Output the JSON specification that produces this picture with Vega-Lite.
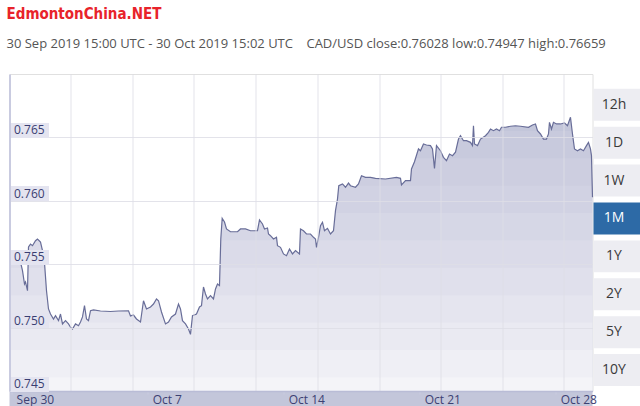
{
  "$schema": "https://vega.github.io/schema/vega-lite/v6.json",
  "padding": {"left": 1.5, "top": 6, "right": 0, "bottom": 0},
  "background": "#ffffff",
  "bounds": "flush",
  "title": {
    "text": "EdmontonChina.NET",
    "subtitle": "30 Sep 2019 15:00 UTC - 30 Oct 2019 15:02 UTC \u00a0\u00a0\u00a0CAD/USD close:0.76028 low:0.74947 high:0.76659",
    "anchor": "start",
    "frame": "group",
    "dx": -3,
    "font": "'DejaVu Sans Condensed', 'Liberation Sans', sans-serif",
    "fontSize": 15,
    "fontWeight": "bold",
    "color": "#e8232b",
    "subtitleFont": "Open Sans",
    "subtitleFontSize": 13,
    "subtitleColor": "#555555",
    "subtitlePadding": 16,
    "offset": 23
  },
  "datasets": {
    "rate": [
      {"t": "2019-09-30T15:00Z", "v": 0.75549},
      {"t": "2019-09-30T22:25Z", "v": 0.75533},
      {"t": "2019-10-01T04:35Z", "v": 0.75517},
      {"t": "2019-10-01T07:03Z", "v": 0.75449},
      {"t": "2019-10-01T09:32Z", "v": 0.75344},
      {"t": "2019-10-01T10:46Z", "v": 0.75360},
      {"t": "2019-10-01T13:14Z", "v": 0.75291},
      {"t": "2019-10-01T14:28Z", "v": 0.75636},
      {"t": "2019-10-01T16:56Z", "v": 0.75659},
      {"t": "2019-10-01T19:24Z", "v": 0.75646},
      {"t": "2019-10-01T23:07Z", "v": 0.75685},
      {"t": "2019-10-02T01:35Z", "v": 0.75699},
      {"t": "2019-10-02T05:17Z", "v": 0.75675},
      {"t": "2019-10-02T07:45Z", "v": 0.75607},
      {"t": "2019-10-02T10:14Z", "v": 0.75510},
      {"t": "2019-10-02T12:42Z", "v": 0.75291},
      {"t": "2019-10-02T15:10Z", "v": 0.75147},
      {"t": "2019-10-02T17:38Z", "v": 0.75107},
      {"t": "2019-10-02T21:20Z", "v": 0.75068},
      {"t": "2019-10-02T23:49Z", "v": 0.75094},
      {"t": "2019-10-03T03:31Z", "v": 0.75055},
      {"t": "2019-10-03T05:59Z", "v": 0.75107},
      {"t": "2019-10-03T08:27Z", "v": 0.75029},
      {"t": "2019-10-03T12:10Z", "v": 0.75055},
      {"t": "2019-10-03T15:52Z", "v": 0.75029},
      {"t": "2019-10-03T18:20Z", "v": 0.75003},
      {"t": "2019-10-03T20:48Z", "v": 0.74989},
      {"t": "2019-10-04T00:31Z", "v": 0.75029},
      {"t": "2019-10-04T04:13Z", "v": 0.75015},
      {"t": "2019-10-04T06:41Z", "v": 0.75044},
      {"t": "2019-10-04T09:09Z", "v": 0.75084},
      {"t": "2019-10-04T11:38Z", "v": 0.75173},
      {"t": "2019-10-04T14:06Z", "v": 0.75068},
      {"t": "2019-10-04T16:34Z", "v": 0.75055},
      {"t": "2019-10-04T19:02Z", "v": 0.75133},
      {"t": "2019-10-04T22:44Z", "v": 0.75139},
      {"t": "2019-10-05T07:23Z", "v": 0.75131},
      {"t": "2019-10-05T19:44Z", "v": 0.75127},
      {"t": "2019-10-06T05:37Z", "v": 0.75131},
      {"t": "2019-10-06T17:58Z", "v": 0.75133},
      {"t": "2019-10-06T20:26Z", "v": 0.75092},
      {"t": "2019-10-07T00:08Z", "v": 0.75099},
      {"t": "2019-10-07T03:51Z", "v": 0.75068},
      {"t": "2019-10-07T08:47Z", "v": 0.75044},
      {"t": "2019-10-07T12:29Z", "v": 0.75212},
      {"t": "2019-10-07T16:12Z", "v": 0.75147},
      {"t": "2019-10-07T21:08Z", "v": 0.75163},
      {"t": "2019-10-08T00:50Z", "v": 0.75186},
      {"t": "2019-10-08T04:33Z", "v": 0.75226},
      {"t": "2019-10-08T07:01Z", "v": 0.75212},
      {"t": "2019-10-08T10:43Z", "v": 0.75123},
      {"t": "2019-10-08T15:40Z", "v": 0.75029},
      {"t": "2019-10-08T19:22Z", "v": 0.75044},
      {"t": "2019-10-08T23:04Z", "v": 0.75084},
      {"t": "2019-10-09T04:01Z", "v": 0.75107},
      {"t": "2019-10-09T07:43Z", "v": 0.75186},
      {"t": "2019-10-09T10:11Z", "v": 0.75147},
      {"t": "2019-10-09T12:39Z", "v": 0.75055},
      {"t": "2019-10-09T16:22Z", "v": 0.75029},
      {"t": "2019-10-09T20:04Z", "v": 0.74989},
      {"t": "2019-10-09T22:32Z", "v": 0.74947},
      {"t": "2019-10-10T01:00Z", "v": 0.75094},
      {"t": "2019-10-10T05:57Z", "v": 0.75107},
      {"t": "2019-10-10T09:39Z", "v": 0.75163},
      {"t": "2019-10-10T12:07Z", "v": 0.75173},
      {"t": "2019-10-10T14:35Z", "v": 0.75320},
      {"t": "2019-10-10T17:04Z", "v": 0.75265},
      {"t": "2019-10-10T19:32Z", "v": 0.75226},
      {"t": "2019-10-10T23:14Z", "v": 0.75252},
      {"t": "2019-10-11T02:56Z", "v": 0.75226},
      {"t": "2019-10-11T05:25Z", "v": 0.75305},
      {"t": "2019-10-11T07:53Z", "v": 0.75344},
      {"t": "2019-10-11T10:21Z", "v": 0.75331},
      {"t": "2019-10-11T11:57Z", "v": 0.75699},
      {"t": "2019-10-11T13:41Z", "v": 0.75862},
      {"t": "2019-10-11T16:32Z", "v": 0.75833},
      {"t": "2019-10-11T19:00Z", "v": 0.75778},
      {"t": "2019-10-11T23:56Z", "v": 0.75756},
      {"t": "2019-10-12T08:35Z", "v": 0.75756},
      {"t": "2019-10-12T12:17Z", "v": 0.75778},
      {"t": "2019-10-12T18:28Z", "v": 0.75778},
      {"t": "2019-10-13T00:38Z", "v": 0.75764},
      {"t": "2019-10-13T09:17Z", "v": 0.75764},
      {"t": "2019-10-13T11:45Z", "v": 0.75849},
      {"t": "2019-10-13T15:27Z", "v": 0.75817},
      {"t": "2019-10-13T17:56Z", "v": 0.75778},
      {"t": "2019-10-13T21:38Z", "v": 0.75786},
      {"t": "2019-10-13T22:52Z", "v": 0.75738},
      {"t": "2019-10-14T01:20Z", "v": 0.75725},
      {"t": "2019-10-14T05:02Z", "v": 0.75699},
      {"t": "2019-10-14T08:45Z", "v": 0.75712},
      {"t": "2019-10-14T09:59Z", "v": 0.75646},
      {"t": "2019-10-14T13:41Z", "v": 0.75633},
      {"t": "2019-10-14T17:23Z", "v": 0.75581},
      {"t": "2019-10-14T21:06Z", "v": 0.75567},
      {"t": "2019-10-15T00:48Z", "v": 0.75620},
      {"t": "2019-10-15T04:30Z", "v": 0.75581},
      {"t": "2019-10-15T08:13Z", "v": 0.75607},
      {"t": "2019-10-15T13:09Z", "v": 0.75581},
      {"t": "2019-10-15T14:23Z", "v": 0.75778},
      {"t": "2019-10-15T18:05Z", "v": 0.75764},
      {"t": "2019-10-15T21:48Z", "v": 0.75738},
      {"t": "2019-10-16T02:44Z", "v": 0.75738},
      {"t": "2019-10-16T06:26Z", "v": 0.75712},
      {"t": "2019-10-16T08:55Z", "v": 0.75699},
      {"t": "2019-10-16T10:09Z", "v": 0.75633},
      {"t": "2019-10-16T12:37Z", "v": 0.75712},
      {"t": "2019-10-16T15:05Z", "v": 0.75804},
      {"t": "2019-10-16T17:33Z", "v": 0.75831},
      {"t": "2019-10-16T20:02Z", "v": 0.75764},
      {"t": "2019-10-16T23:44Z", "v": 0.75783},
      {"t": "2019-10-17T03:26Z", "v": 0.75738},
      {"t": "2019-10-17T07:08Z", "v": 0.75764},
      {"t": "2019-10-17T09:37Z", "v": 0.75922},
      {"t": "2019-10-17T12:05Z", "v": 0.76014},
      {"t": "2019-10-17T13:41Z", "v": 0.76119},
      {"t": "2019-10-17T18:16Z", "v": 0.76133},
      {"t": "2019-10-17T21:58Z", "v": 0.76107},
      {"t": "2019-10-18T01:40Z", "v": 0.76140},
      {"t": "2019-10-18T04:08Z", "v": 0.76119},
      {"t": "2019-10-18T10:19Z", "v": 0.76107},
      {"t": "2019-10-18T14:01Z", "v": 0.76133},
      {"t": "2019-10-18T17:43Z", "v": 0.76198},
      {"t": "2019-10-18T22:40Z", "v": 0.76185},
      {"t": "2019-10-19T04:50Z", "v": 0.76185},
      {"t": "2019-10-19T11:01Z", "v": 0.76177},
      {"t": "2019-10-19T23:22Z", "v": 0.76172},
      {"t": "2019-10-20T12:57Z", "v": 0.76184},
      {"t": "2019-10-20T17:53Z", "v": 0.76177},
      {"t": "2019-10-20T19:07Z", "v": 0.76125},
      {"t": "2019-10-21T00:04Z", "v": 0.76159},
      {"t": "2019-10-21T06:14Z", "v": 0.76159},
      {"t": "2019-10-21T07:28Z", "v": 0.76251},
      {"t": "2019-10-21T11:11Z", "v": 0.76308},
      {"t": "2019-10-21T16:07Z", "v": 0.76409},
      {"t": "2019-10-21T18:35Z", "v": 0.76395},
      {"t": "2019-10-21T22:17Z", "v": 0.76448},
      {"t": "2019-10-22T02:00Z", "v": 0.76440},
      {"t": "2019-10-22T06:56Z", "v": 0.76435},
      {"t": "2019-10-22T09:25Z", "v": 0.76409},
      {"t": "2019-10-22T11:53Z", "v": 0.76256},
      {"t": "2019-10-22T14:21Z", "v": 0.76435},
      {"t": "2019-10-22T19:17Z", "v": 0.76395},
      {"t": "2019-10-22T22:59Z", "v": 0.76343},
      {"t": "2019-10-23T02:42Z", "v": 0.76316},
      {"t": "2019-10-23T06:24Z", "v": 0.76369},
      {"t": "2019-10-23T10:07Z", "v": 0.76356},
      {"t": "2019-10-23T13:49Z", "v": 0.76383},
      {"t": "2019-10-23T17:31Z", "v": 0.76487},
      {"t": "2019-10-23T19:59Z", "v": 0.76513},
      {"t": "2019-10-23T23:41Z", "v": 0.76474},
      {"t": "2019-10-24T03:24Z", "v": 0.76474},
      {"t": "2019-10-24T08:20Z", "v": 0.76461},
      {"t": "2019-10-24T10:49Z", "v": 0.76435},
      {"t": "2019-10-24T12:02Z", "v": 0.76592},
      {"t": "2019-10-24T13:17Z", "v": 0.76448},
      {"t": "2019-10-24T16:59Z", "v": 0.76435},
      {"t": "2019-10-24T20:41Z", "v": 0.76487},
      {"t": "2019-10-25T02:52Z", "v": 0.76513},
      {"t": "2019-10-25T06:34Z", "v": 0.76540},
      {"t": "2019-10-25T09:02Z", "v": 0.76566},
      {"t": "2019-10-25T12:44Z", "v": 0.76553},
      {"t": "2019-10-25T16:27Z", "v": 0.76566},
      {"t": "2019-10-25T20:09Z", "v": 0.76553},
      {"t": "2019-10-25T22:37Z", "v": 0.76580},
      {"t": "2019-10-26T03:34Z", "v": 0.76580},
      {"t": "2019-10-26T09:44Z", "v": 0.76588},
      {"t": "2019-10-26T15:55Z", "v": 0.76592},
      {"t": "2019-10-26T22:05Z", "v": 0.76588},
      {"t": "2019-10-27T07:58Z", "v": 0.76580},
      {"t": "2019-10-27T12:55Z", "v": 0.76598},
      {"t": "2019-10-27T16:37Z", "v": 0.76606},
      {"t": "2019-10-27T19:05Z", "v": 0.76553},
      {"t": "2019-10-27T22:47Z", "v": 0.76527},
      {"t": "2019-10-28T02:29Z", "v": 0.76487},
      {"t": "2019-10-28T06:12Z", "v": 0.76487},
      {"t": "2019-10-28T08:40Z", "v": 0.76527},
      {"t": "2019-10-28T09:54Z", "v": 0.76619},
      {"t": "2019-10-28T12:22Z", "v": 0.76566},
      {"t": "2019-10-28T14:50Z", "v": 0.76619},
      {"t": "2019-10-28T18:33Z", "v": 0.76606},
      {"t": "2019-10-28T23:29Z", "v": 0.76606},
      {"t": "2019-10-29T04:26Z", "v": 0.76614},
      {"t": "2019-10-29T08:08Z", "v": 0.76592},
      {"t": "2019-10-29T11:50Z", "v": 0.76659},
      {"t": "2019-10-29T14:19Z", "v": 0.76527},
      {"t": "2019-10-29T16:47Z", "v": 0.76409},
      {"t": "2019-10-29T20:29Z", "v": 0.76395},
      {"t": "2019-10-30T00:11Z", "v": 0.76409},
      {"t": "2019-10-30T03:53Z", "v": 0.76395},
      {"t": "2019-10-30T07:36Z", "v": 0.76435},
      {"t": "2019-10-30T10:04Z", "v": 0.76461},
      {"t": "2019-10-30T12:32Z", "v": 0.76409},
      {"t": "2019-10-30T13:46Z", "v": 0.76356},
      {"t": "2019-10-30T15:02Z", "v": 0.76028}
    ],
    "buttons": [
      {"label": "12h"}, {"label": "1D"}, {"label": "1W"}, {"label": "1M"},
      {"label": "1Y"}, {"label": "2Y"}, {"label": "5Y"}, {"label": "10Y"}
    ],
    "one": [{}]
  },
  "hconcat": [
    {
      "width": 583,
      "height": 317,
      "data": {"name": "rate"},
      "view": {"stroke": "#e0e0e0"},
      "layer": [
        {
          "mark": {"type": "area", "color": "#c3c6da", "opacity": 1},
          "encoding": {
            "x": {
              "field": "t", "type": "temporal",
              "scale": {"type": "utc", "domain": [
                {"year": 2019, "month": 9, "date": 30, "hours": 15, "utc": true},
                {"year": 2019, "month": 10, "date": 30, "hours": 15, "minutes": 2, "utc": true}
              ]},
              "axis": {
                "orient": "bottom", "title": null, "grid": false, "zindex": 1,
                "values": [
                  {"year": 2019, "month": 9, "date": 30, "hours": 17, "utc": true},
                  {"year": 2019, "month": 10, "date": 7, "hours": 17, "utc": true},
                  {"year": 2019, "month": 10, "date": 14, "hours": 17, "utc": true},
                  {"year": 2019, "month": 10, "date": 21, "hours": 17, "utc": true},
                  {"year": 2019, "month": 10, "date": 28, "hours": 17, "utc": true}
                ],
                "format": "%b %-d",
                "labelAlign": "left", "labelOffset": 5,
                "labelBaseline": "alphabetic",
                "tickSize": 3, "labelPadding": 9,
                "tickColor": "#c9cbe0",
                "labelFont": "Open Sans", "labelFontSize": 12, "labelColor": "#3c4172",
                "domainColor": "#b9bcd6", "domainWidth": 1.5,
                "labelFlush": false, "labelOverlap": false
              }
            },
            "y": {
              "field": "v", "type": "quantitative",
              "scale": {"domain": [0.745, 0.77], "zero": false, "nice": false},
              "axis": {
                "orient": "left", "title": null, "grid": false, "zindex": 1,
                "values": [0.745, 0.75, 0.755, 0.76, 0.765],
                "format": ".3f",
                "tickSize": -39, "tickWidth": 15, "tickOffset": -7.5,
                "tickColor": "#e4e4f0",
                "labelPadding": 35, "labelAlign": "left", "labelBaseline": "middle",
                "labelFont": "Open Sans", "labelFontSize": 12, "labelColor": "#3a3e72",
                "domainColor": "#c9cbe0", "domainWidth": 2,
                "labelOverlap": false
              }
            }
          }
        },
        {"data": {"name": "one"}, "mark": {"type": "rect", "color": "#ffffff", "opacity": 0.082},
         "encoding": {"y": {"datum": 0.76551, "type": "quantitative", "axis": null}, "y2": {"datum": 0.745}}},
        {"data": {"name": "one"}, "mark": {"type": "rect", "color": "#ffffff", "opacity": 0.089},
         "encoding": {"y": {"datum": 0.76335, "type": "quantitative", "axis": null}, "y2": {"datum": 0.745}}},
        {"data": {"name": "one"}, "mark": {"type": "rect", "color": "#ffffff", "opacity": 0.098},
         "encoding": {"y": {"datum": 0.76119, "type": "quantitative", "axis": null}, "y2": {"datum": 0.745}}},
        {"data": {"name": "one"}, "mark": {"type": "rect", "color": "#ffffff", "opacity": 0.109},
         "encoding": {"y": {"datum": 0.75903, "type": "quantitative", "axis": null}, "y2": {"datum": 0.745}}},
        {"data": {"name": "one"}, "mark": {"type": "rect", "color": "#ffffff", "opacity": 0.122},
         "encoding": {"y": {"datum": 0.75688, "type": "quantitative", "axis": null}, "y2": {"datum": 0.745}}},
        {"data": {"name": "one"}, "mark": {"type": "rect", "color": "#ffffff", "opacity": 0.139},
         "encoding": {"y": {"datum": 0.75472, "type": "quantitative", "axis": null}, "y2": {"datum": 0.745}}},
        {"data": {"name": "one"}, "mark": {"type": "rect", "color": "#ffffff", "opacity": 0.162},
         "encoding": {"y": {"datum": 0.75256, "type": "quantitative", "axis": null}, "y2": {"datum": 0.745}}},
        {"data": {"name": "one"}, "mark": {"type": "rect", "color": "#ffffff", "opacity": 0.193},
         "encoding": {"y": {"datum": 0.75040, "type": "quantitative", "axis": null}, "y2": {"datum": 0.745}}},
        {"data": {"name": "one"}, "mark": {"type": "rect", "color": "#ffffff", "opacity": 0.24},
         "encoding": {"y": {"datum": 0.74824, "type": "quantitative", "axis": null}, "y2": {"datum": 0.745}}},
        {"data": {"name": "one"}, "mark": {"type": "rect", "color": "#ffffff", "opacity": 0.315},
         "encoding": {"y": {"datum": 0.74608, "type": "quantitative", "axis": null}, "y2": {"datum": 0.745}}},
        {
          "mark": {"type": "line", "color": "#686d98", "strokeWidth": 1.2},
          "encoding": {
            "x": {
              "field": "t", "type": "temporal",
              "scale": {"type": "utc"},
              "axis": {
                "orient": "top", "title": null, "grid": true, "labels": false, "ticks": false, "domain": false,
                "zindex": 1, "gridColor": "#dedee6", "gridOpacity": 0.85,
                "values": [
                  {"year": 2019, "month": 10, "date": 3, "hours": 18, "minutes": 20, "utc": true},
                  {"year": 2019, "month": 10, "date": 6, "hours": 22, "minutes": 54, "utc": true},
                  {"year": 2019, "month": 10, "date": 10, "hours": 2, "minutes": 14, "utc": true},
                  {"year": 2019, "month": 10, "date": 13, "hours": 6, "minutes": 48, "utc": true},
                  {"year": 2019, "month": 10, "date": 16, "hours": 11, "minutes": 23, "utc": true},
                  {"year": 2019, "month": 10, "date": 19, "hours": 15, "minutes": 57, "utc": true},
                  {"year": 2019, "month": 10, "date": 22, "hours": 19, "minutes": 18, "utc": true},
                  {"year": 2019, "month": 10, "date": 25, "hours": 23, "minutes": 52, "utc": true},
                  {"year": 2019, "month": 10, "date": 29, "hours": 3, "minutes": 11, "utc": true}
                ]
              }
            },
            "y": {
              "field": "v", "type": "quantitative",
              "axis": {
                "orient": "right", "title": null, "grid": true, "labels": false, "ticks": false, "domain": false,
                "zindex": 1, "gridColor": "#dedee6", "gridOpacity": 0.85,
                "values": [0.75, 0.755, 0.76, 0.765]
              }
            }
          }
        }
      ],
      "resolve": {"axis": {"x": "independent", "y": "independent"}}
    },
    {
      "width": 47,
      "height": 317,
      "data": {"name": "buttons"},
      "view": {"stroke": null},
      "encoding": {
        "y": {
          "field": "label", "type": "nominal", "sort": null, "axis": null,
          "scale": {"paddingInner": 0.156, "paddingOuter": 0.26, "align": 0.75}
        }
      },
      "layer": [
        {
          "mark": {"type": "bar"},
          "encoding": {
            "color": {"condition": {"test": "datum.label === '1M'", "value": "#2d6aa6"}, "value": "#ededf2"}
          }
        },
        {
          "mark": {"type": "text", "font": "Open Sans", "fontSize": 14, "dx": -3},
          "encoding": {
            "text": {"field": "label"},
            "color": {"condition": {"test": "datum.label === '1M'", "value": "#ffffff"}, "value": "#3a3a3a"}
          }
        }
      ]
    }
  ],
  "spacing": 1,
  "config": {"font": "Open Sans"}
}
